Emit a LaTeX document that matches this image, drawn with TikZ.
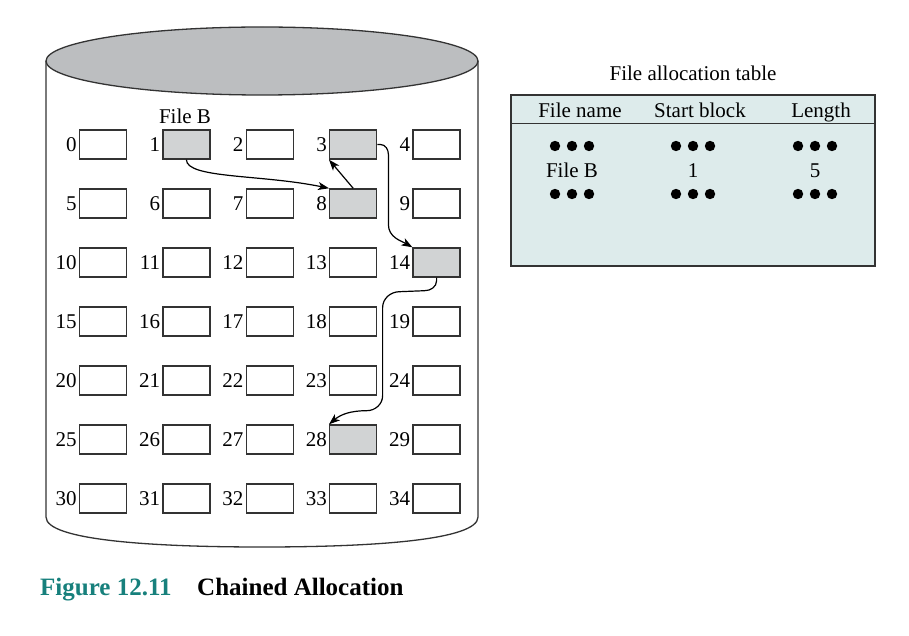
\documentclass[tikz,border=0pt]{standalone}
\usepackage{fontspec}
\setmainfont{Liberation Serif}
\usetikzlibrary{positioning,arrows.meta}
\definecolor{usedgray}{HTML}{D1D3D4}
\definecolor{topgray}{HTML}{BCBEC0}
\definecolor{fatfill}{HTML}{DDEBEB}
\definecolor{figteal}{HTML}{17807C}
\definecolor{ink}{HTML}{333333}
\tikzset{
  x=1pt, y=-1pt, font=\fontsize{21}{25}\selectfont,
  blk/.style={draw=ink, line width=1.4pt, minimum width=47pt, minimum height=29pt, inner sep=0pt},
  used/.style={blk, fill=usedgray},
  numlbl/.style={inner sep=2pt, anchor=east},
  txt/.style={anchor=base, inner sep=0pt},
  chain/.style={line width=1.2pt, -{Stealth[length=11pt,width=8pt,inset=3pt]}},
  fatbox/.style={draw=ink, line width=1.3pt, fill=fatfill, minimum width=364pt, minimum height=171pt}
  }
\begin{document}
\begin{tikzpicture}
    \useasboundingbox (0,0) rectangle (909,636);

    % disk
    \draw[line width=1.3pt, draw=ink] (46,61) -- (46,517)
      .. controls (46,540) and (150,547) .. (262,547)
      .. controls (374,547) and (478,540) .. (478,517) -- (478,61);
    \draw[line width=1.3pt, draw=ink, fill=topgray] (262,61) ellipse [x radius=216, y radius=34];

    % blocks
    \foreach \r in {0,...,6}{
      \foreach \c in {0,...,4}{
        \pgfmathtruncatemacro\i{5*\r+\c}
        \node[blk] (b\i) at (103+83.4*\c, 144.5+59*\r) {};
        \node[numlbl, left=0pt of b\i] (n\i) {\i};
      }
    }
    \foreach \i in {1,3,8,14,28}
      \node[used] (u\i) at (b\i) {};
    \node[txt] (fileb) at (185,124) {File B};

    % chain
    \draw[chain] (b1.south) .. controls +(0,19) and +(-67,-14) .. (b8.north west);
    \draw[chain] (b8.north) -- (b3.south west);
    \draw[chain] (b3.east) -- ++(3,0) to[out=0,in=90] ++(8,10) -- ++(0,70)
      to[out=-90,in=150] (b14.north west);
    \draw[chain] (b14.south) -- ++(0,3) to[out=-90,in=0] ++(-12,10) -- ++(-25,1)
      to[out=180,in=90] ++(-17,16) -- ++(0,88) to[out=-90,in=0] ++(-16,15)
      to[out=180,in=40] (b28.north west);

    % file allocation table
    \node[txt] (fattitle) at (693,81) {File allocation table};
    \node[fatbox] (fat) at (693,180.5) {};
    \draw[line width=1.3pt, draw=ink] (fat.north west) ++(0,29) -- ++(364,0);
    \node[txt] (hname) at (580,118) {File name};
    \node[txt] (hstart) at (700,118) {Start block};
    \node[txt] (hlen) at (821,118) {Length};
    \node[txt] (vname) at (572,178) {File B};
    \node[txt] (vstart) at (693,178) {1};
    \node[txt] (vlen) at (815,178) {5};
    \foreach \cx in {572,693,815}
      \foreach \cy in {146,194}
        \foreach \d in {-17,0,17}
          \fill (\cx+\d,\cy) circle[radius=5.2];

    % caption
    \node[anchor=base west, inner sep=0pt, text=figteal, font=\fontsize{25}{29}\selectfont\bfseries] (figno) at (40,595) {Figure 12.11};
    \node[anchor=base west, inner sep=0pt, font=\fontsize{25}{29}\selectfont\bfseries] (figname) at (197,595) {Chained Allocation};

\end{tikzpicture}
\end{document}
